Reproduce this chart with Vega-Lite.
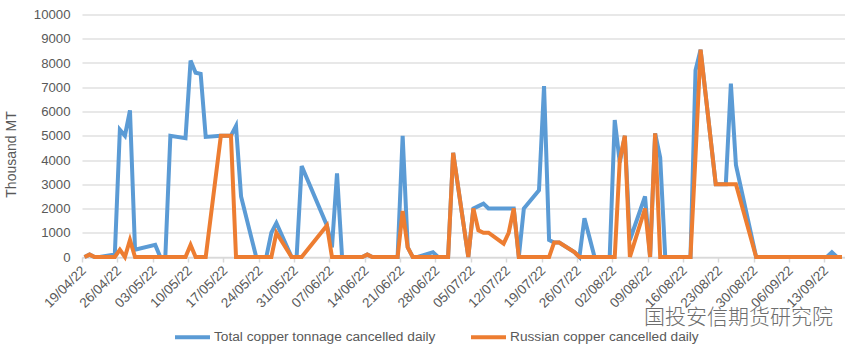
{"$schema":"https://vega.github.io/schema/vega-lite/v6.json","width":762.5,"height":242.5,"autosize":{"type":"none"},"padding":{"left":82,"top":14.5,"right":15.5,"bottom":99},"background":"white","config":{"font":"Liberation Sans","view":{"stroke":null}},
"layer":[
{"data":{"values":[
{"date":"2022-04-19T12:00:00Z","total":0,"russian":0},
{"date":"2022-04-20T12:00:00Z","total":100,"russian":100},
{"date":"2022-04-21T12:00:00Z","total":0,"russian":0},
{"date":"2022-04-22T12:00:00Z","total":0,"russian":0},
{"date":"2022-04-25T12:00:00Z","total":100,"russian":0},
{"date":"2022-04-26T12:00:00Z","total":5250,"russian":300},
{"date":"2022-04-27T12:00:00Z","total":5000,"russian":0},
{"date":"2022-04-28T12:00:00Z","total":6050,"russian":700},
{"date":"2022-04-29T12:00:00Z","total":300,"russian":0},
{"date":"2022-05-03T12:00:00Z","total":500,"russian":0},
{"date":"2022-05-04T12:00:00Z","total":0,"russian":0},
{"date":"2022-05-05T12:00:00Z","total":0,"russian":0},
{"date":"2022-05-06T12:00:00Z","total":5000,"russian":0},
{"date":"2022-05-09T12:00:00Z","total":4900,"russian":0},
{"date":"2022-05-10T12:00:00Z","total":8100,"russian":500},
{"date":"2022-05-11T12:00:00Z","total":7600,"russian":0},
{"date":"2022-05-12T12:00:00Z","total":7550,"russian":0},
{"date":"2022-05-13T12:00:00Z","total":4950,"russian":0},
{"date":"2022-05-16T12:00:00Z","total":5000,"russian":5000},
{"date":"2022-05-17T12:00:00Z","total":5000,"russian":5000},
{"date":"2022-05-18T12:00:00Z","total":5000,"russian":5000},
{"date":"2022-05-19T12:00:00Z","total":5400,"russian":0},
{"date":"2022-05-20T12:00:00Z","total":2500,"russian":0},
{"date":"2022-05-23T12:00:00Z","total":0,"russian":0},
{"date":"2022-05-24T12:00:00Z","total":0,"russian":0},
{"date":"2022-05-25T12:00:00Z","total":0,"russian":0},
{"date":"2022-05-26T12:00:00Z","total":1000,"russian":0},
{"date":"2022-05-27T12:00:00Z","total":1400,"russian":1000},
{"date":"2022-05-30T12:00:00Z","total":0,"russian":0},
{"date":"2022-05-31T12:00:00Z","total":0,"russian":0},
{"date":"2022-06-01T12:00:00Z","total":3750,"russian":0},
{"date":"2022-06-06T12:00:00Z","total":1300,"russian":1300},
{"date":"2022-06-07T12:00:00Z","total":400,"russian":0},
{"date":"2022-06-08T12:00:00Z","total":3450,"russian":0},
{"date":"2022-06-09T12:00:00Z","total":0,"russian":0},
{"date":"2022-06-10T12:00:00Z","total":0,"russian":0},
{"date":"2022-06-13T12:00:00Z","total":0,"russian":0},
{"date":"2022-06-14T12:00:00Z","total":100,"russian":100},
{"date":"2022-06-15T12:00:00Z","total":0,"russian":0},
{"date":"2022-06-16T12:00:00Z","total":0,"russian":0},
{"date":"2022-06-17T12:00:00Z","total":0,"russian":0},
{"date":"2022-06-20T12:00:00Z","total":0,"russian":0},
{"date":"2022-06-21T12:00:00Z","total":5000,"russian":1900},
{"date":"2022-06-22T12:00:00Z","total":400,"russian":400},
{"date":"2022-06-23T12:00:00Z","total":0,"russian":0},
{"date":"2022-06-24T12:00:00Z","total":0,"russian":0},
{"date":"2022-06-27T12:00:00Z","total":200,"russian":0},
{"date":"2022-06-28T12:00:00Z","total":0,"russian":0},
{"date":"2022-06-29T12:00:00Z","total":0,"russian":0},
{"date":"2022-06-30T12:00:00Z","total":0,"russian":0},
{"date":"2022-07-01T12:00:00Z","total":4300,"russian":4300},
{"date":"2022-07-04T12:00:00Z","total":0,"russian":0},
{"date":"2022-07-05T12:00:00Z","total":2000,"russian":2000},
{"date":"2022-07-06T12:00:00Z","total":2100,"russian":1100},
{"date":"2022-07-07T12:00:00Z","total":2200,"russian":1000},
{"date":"2022-07-08T12:00:00Z","total":2000,"russian":1000},
{"date":"2022-07-11T12:00:00Z","total":2000,"russian":550},
{"date":"2022-07-12T12:00:00Z","total":2000,"russian":1000},
{"date":"2022-07-13T12:00:00Z","total":2000,"russian":2000},
{"date":"2022-07-14T12:00:00Z","total":0,"russian":0},
{"date":"2022-07-15T12:00:00Z","total":2000,"russian":0},
{"date":"2022-07-18T12:00:00Z","total":2750,"russian":0},
{"date":"2022-07-19T12:00:00Z","total":7050,"russian":0},
{"date":"2022-07-20T12:00:00Z","total":700,"russian":0},
{"date":"2022-07-21T12:00:00Z","total":600,"russian":600},
{"date":"2022-07-22T12:00:00Z","total":600,"russian":600},
{"date":"2022-07-25T12:00:00Z","total":200,"russian":200},
{"date":"2022-07-26T12:00:00Z","total":0,"russian":0},
{"date":"2022-07-27T12:00:00Z","total":1600,"russian":0},
{"date":"2022-07-28T12:00:00Z","total":800,"russian":0},
{"date":"2022-07-29T12:00:00Z","total":0,"russian":0},
{"date":"2022-08-01T12:00:00Z","total":0,"russian":0},
{"date":"2022-08-02T12:00:00Z","total":5650,"russian":0},
{"date":"2022-08-03T12:00:00Z","total":3900,"russian":4000},
{"date":"2022-08-04T12:00:00Z","total":5000,"russian":5000},
{"date":"2022-08-05T12:00:00Z","total":700,"russian":0},
{"date":"2022-08-08T12:00:00Z","total":2500,"russian":2000},
{"date":"2022-08-09T12:00:00Z","total":0,"russian":0},
{"date":"2022-08-10T12:00:00Z","total":5100,"russian":5100},
{"date":"2022-08-11T12:00:00Z","total":4100,"russian":0},
{"date":"2022-08-12T12:00:00Z","total":0,"russian":0},
{"date":"2022-08-15T12:00:00Z","total":0,"russian":0},
{"date":"2022-08-16T12:00:00Z","total":0,"russian":0},
{"date":"2022-08-17T12:00:00Z","total":0,"russian":0},
{"date":"2022-08-18T12:00:00Z","total":7700,"russian":4200},
{"date":"2022-08-19T12:00:00Z","total":8550,"russian":8550},
{"date":"2022-08-22T12:00:00Z","total":3000,"russian":3000},
{"date":"2022-08-23T12:00:00Z","total":3000,"russian":3000},
{"date":"2022-08-24T12:00:00Z","total":3000,"russian":3000},
{"date":"2022-08-25T12:00:00Z","total":7150,"russian":3000},
{"date":"2022-08-26T12:00:00Z","total":3800,"russian":3000},
{"date":"2022-08-30T12:00:00Z","total":0,"russian":0},
{"date":"2022-08-31T12:00:00Z","total":0,"russian":0},
{"date":"2022-09-01T12:00:00Z","total":0,"russian":0},
{"date":"2022-09-02T12:00:00Z","total":0,"russian":0},
{"date":"2022-09-05T12:00:00Z","total":0,"russian":0},
{"date":"2022-09-06T12:00:00Z","total":0,"russian":0},
{"date":"2022-09-07T12:00:00Z","total":0,"russian":0},
{"date":"2022-09-08T12:00:00Z","total":0,"russian":0},
{"date":"2022-09-09T12:00:00Z","total":0,"russian":0},
{"date":"2022-09-12T12:00:00Z","total":0,"russian":0},
{"date":"2022-09-13T12:00:00Z","total":0,"russian":0},
{"date":"2022-09-14T12:00:00Z","total":200,"russian":0},
{"date":"2022-09-15T12:00:00Z","total":0,"russian":0},
{"date":"2022-09-16T12:00:00Z","total":0,"russian":0}
]},
"transform":[{"fold":["total","russian"],"as":["series","value"]}],
"mark":{"type":"line","strokeWidth":4,"strokeJoin":"miter","clip":false},
"encoding":{
"x":{"field":"date","type":"temporal","scale":{"type":"utc","domain":[1650326400000,1663372800000]},
"axis":{"title":null,"tickCount":22,"values":[1650326400000,1650931200000,1651536000000,1652140800000,1652745600000,1653350400000,1653955200000,1654560000000,1655164800000,1655769600000,1656374400000,1656979200000,1657584000000,1658188800000,1658793600000,1659398400000,1660003200000,1660608000000,1661212800000,1661817600000,1662422400000,1663027200000],"format":"%d/%m/%y","labelAngle":-45,"labelAlign":"right","labelBaseline":"middle","labelFontSize":13.5,"labelColor":"#595959","labelPadding":6,"labelOverlap":false,"labelBound":false,"labelFlush":false,"labelOffset":1.5,"domainColor":"#d9d9d9","domainWidth":1.5,"tickColor":"#d9d9d9","tickWidth":1.5,"tickSize":5,"grid":false}},
"y":{"field":"value","type":"quantitative","scale":{"domain":[0,10000],"nice":false},
"axis":{"title":"Thousand MT","titleFontSize":14,"titleFontWeight":"normal","titleColor":"#595959","titlePadding":15,"titleY":139.5,"tickCount":11,"values":[0,1000,2000,3000,4000,5000,6000,7000,8000,9000,10000],"format":"d","labelFontSize":13.2,"labelColor":"#595959","labelPadding":12,"labelOverlap":false,"domain":false,"ticks":false,"grid":true,"gridColor":"#e0e0e0","gridWidth":1.5}},
"color":{"field":"series","type":"nominal","scale":{"domain":["total","russian"],"range":["#5B9BD5","#ED7D31"]},
"legend":{"title":null,"orient":"none","legendX":91,"legendY":303,"direction":"horizontal","symbolType":"stroke","symbolSize":1225,"symbolStrokeWidth":4,"labelFontSize":13.7,"labelColor":"#595959","labelOffset":2,"labelLimit":400,"columnPadding":27,"labelExpr":"datum.label=='total'?'Total copper tonnage cancelled daily':'Russian copper cancelled daily'"}}
}},
{"data":{"values":[{"date":"2022-08-27T00:00:00Z","value":-2515,"label":"国投安信期货研究院"}]},
"mark":{"type":"text","font":"Noto Sans CJK SC","fontSize":21,"fontWeight":300,"color":"#6e6e6e","clip":false},
"encoding":{"x":{"field":"date","type":"temporal"},"y":{"field":"value","type":"quantitative"},"text":{"field":"label"}}}
]}
